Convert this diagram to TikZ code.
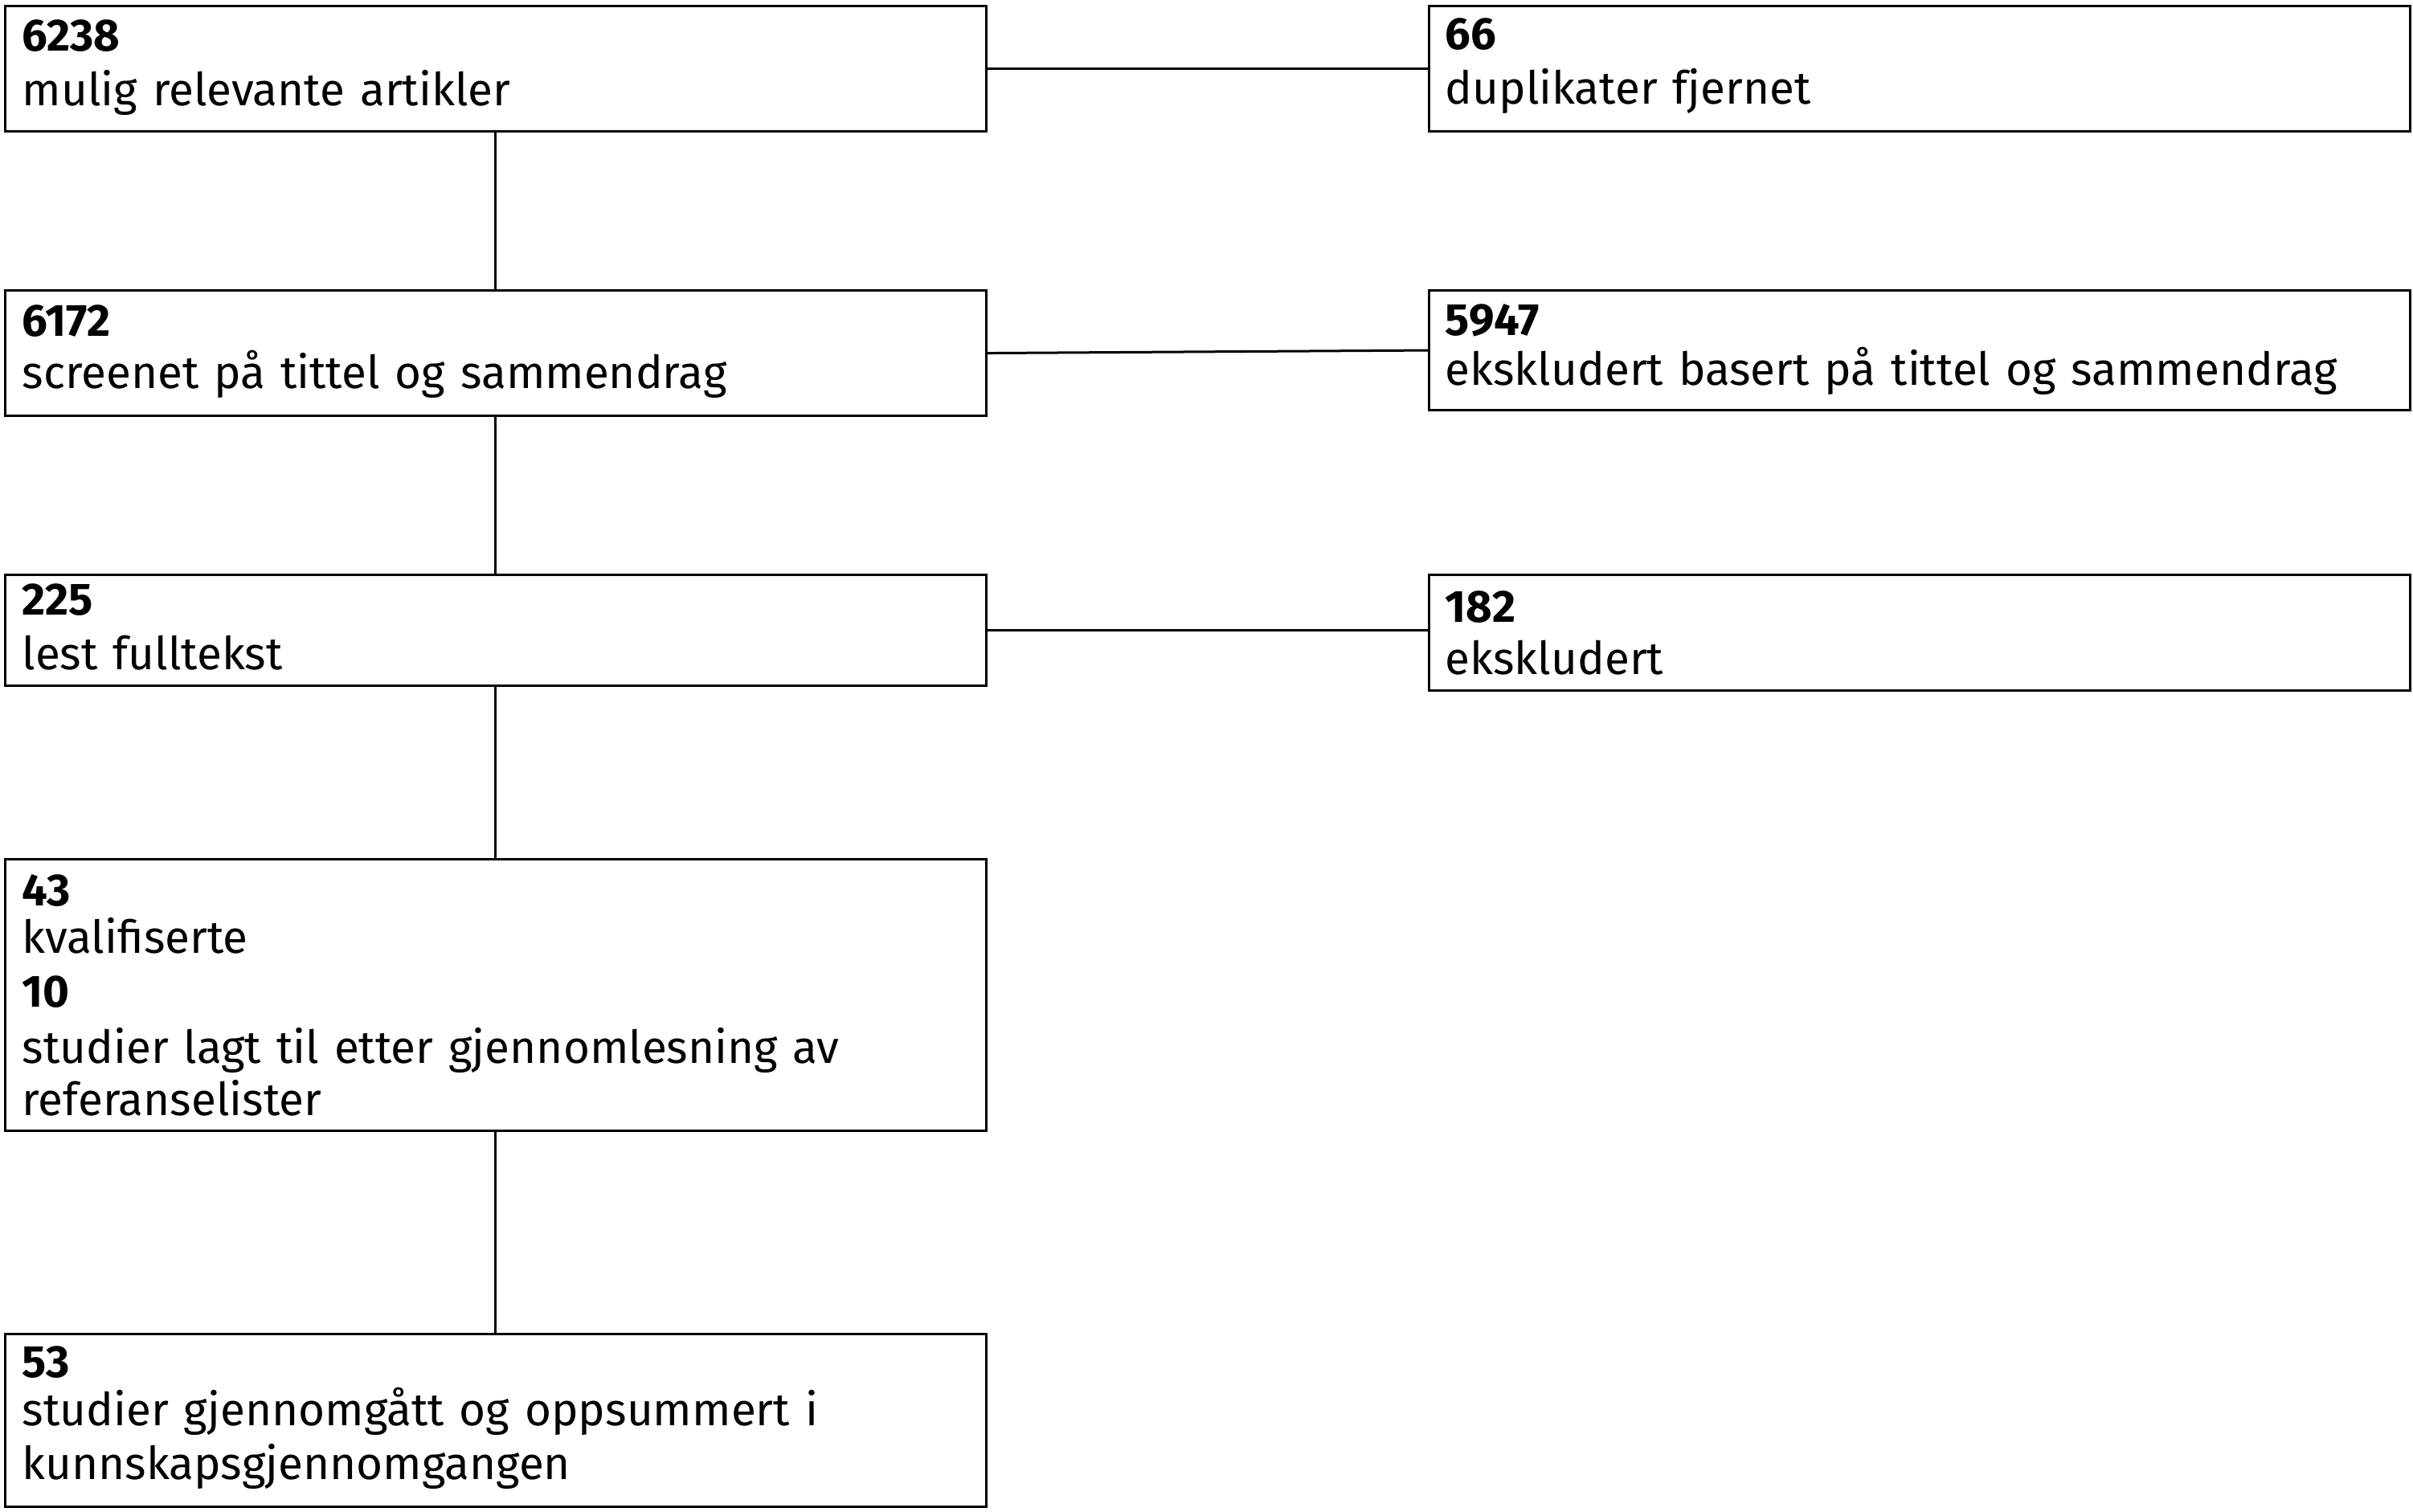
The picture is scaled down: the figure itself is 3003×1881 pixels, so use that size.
\documentclass[tikz,border=0pt]{standalone}
\usepackage{fontspec}
\setmainfont{Fira Sans}
\usetikzlibrary{calc}
\begin{document}
\begin{tikzpicture}[x=0.01cm,y=-0.01cm,
  box/.style={draw, line width=0.03cm, anchor=north west, inner sep=0pt, minimum width=12.2cm},
  txt/.style={anchor=base west, inner sep=0pt, text width=15cm, align=left,
    font=\fontsize{16.1pt}{18.6pt}\selectfont},
  conn/.style={line width=0.03cm}]
\useasboundingbox (0,0) rectangle (3003,1881);
\node[box, minimum height=1.56cm] (b1) at (5,6) {};
\node[box, minimum height=1.56cm] (b2) at (1777,6) {};
\node[box, minimum height=1.56cm] (b3) at (5,360) {};
\node[box, minimum height=1.49cm] (b4) at (1777,360) {};
\node[box, minimum height=1.38cm] (b5) at (5,714) {};
\node[box, minimum height=1.44cm] (b6) at (1777,714) {};
\node[box, minimum height=3.38cm] (b7) at (5,1068) {};
\node[box, minimum height=2.15cm] (b8) at (5,1659) {};
\newcommand{\nm}[1]{{\fontsize{16pt}{18.6pt}\selectfont\bfseries #1}}
\node[txt] (t1) at ($(b1.north west)+(22,57)$) {\nm{6238}\\[0.03cm] mulig relevante artikler};
\node[txt] (t2) at ($(b2.north west)+(21,55)$) {\nm{66}\\[0.03cm] duplikater fjernet};
\node[txt] (t3) at ($(b3.north west)+(22,58)$) {\nm{6172}\\[0.0cm] screenet på tittel og sammendrag};
\node[txt] (t4) at ($(b4.north west)+(21,57)$) {\nm{5947}\\[-0.03cm] ekskludert basert på tittel og sammendrag};
\node[txt] (t5) at ($(b5.north west)+(22,51)$) {\nm{225}\\[0.03cm] lest fulltekst};
\node[txt] (t6) at ($(b6.north west)+(21,60)$) {\nm{182}\\[0.0cm] ekskludert};
\node[txt] (t7) at ($(b7.north west)+(22,59)$) {\nm{43}\\[-0.06cm] kvalifiserte\\[0.02cm] \nm{10}\\[0.04cm] studier lagt til etter gjennomlesning av\\ referanselister};
\node[txt] (t8) at ($(b8.north west)+(22,55)$) {\nm{53}\\[-0.05cm] studier gjennomgått og oppsummert i\\[0.02cm] kunnskapsgjennomgangen};
\draw[conn] (b1.east) -- (b2.west);
\draw[conn] (b3.east) -- (b4.west);
\draw[conn] (b5.east) -- (b5.east -| b6.west);
\draw[conn] (b1.south) -- (b3.north);
\draw[conn] (b3.south) -- (b5.north);
\draw[conn] (b5.south) -- (b7.north);
\draw[conn] (b7.south) -- (b8.north);
\end{tikzpicture}
\end{document}
